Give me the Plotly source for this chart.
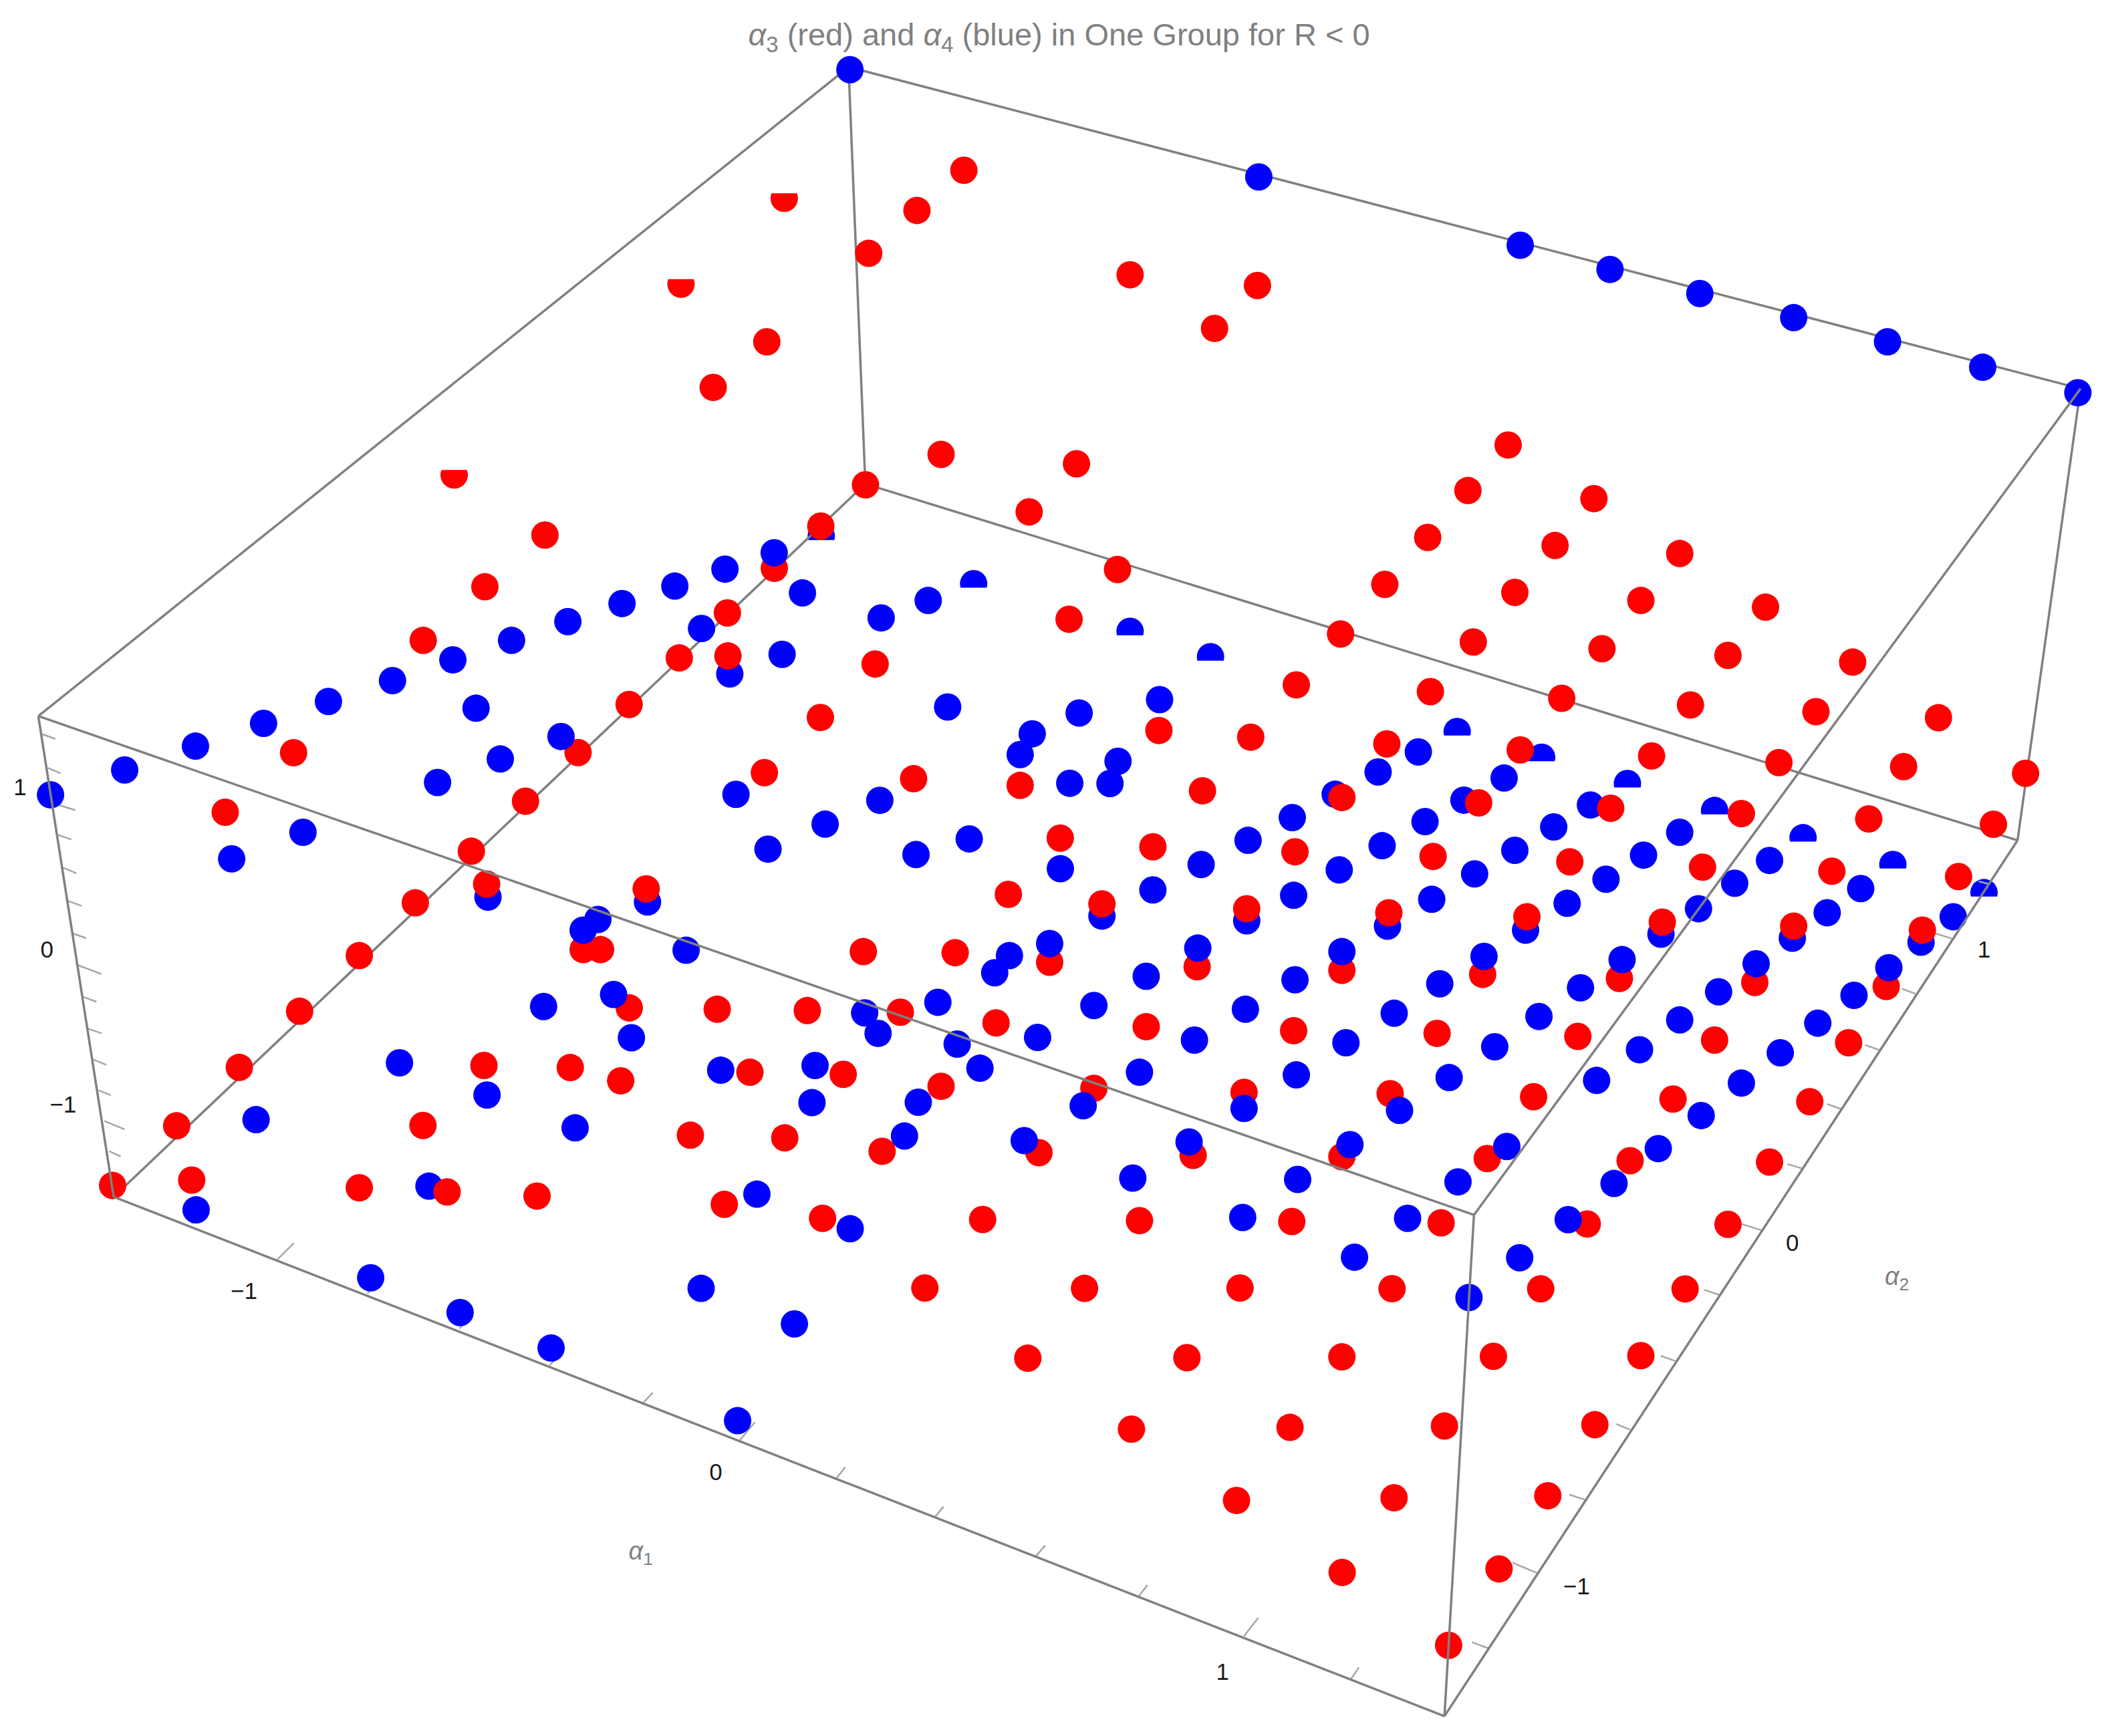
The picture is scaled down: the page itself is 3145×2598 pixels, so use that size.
import plotly.graph_objects as go

red_x = [719,684,648,843,938,906,572,532,702,803,1125,767.7,645.6,1095,1189,406.5,612.3,1065,1160,1253,833.6,361.7,1033,1130,1224,1317,
         577.6,542.6,797.5,1000,1099,1195,1289,1382,315.7,506.7,543,652.8,967,1067,1165,1261,1354.6,1446,469.3,612,219,431.2,570.2,681.5,
         864.5,933,1034.5,1134,1232,1327,1420,1511,392,761,897,1001,1103,1201.5,1299,1394,1487,351.6,790.9,860,966,1069,1171,1270,1366.5,1461,
         168,363,309.8,482,752.2,822,930,1036,1139,1240,1338,1434,
         268,223.5,178.5,131.8,143,84,435,448,644,712.5,783,893,1001,1106,1208,1309,1407,
         469.4,535,602.2,671.6,743,855,965,1072,1177,1279,1379,361,425.4,463,559.4,629,702,816,928,1037,1144,1248,1350,
         315.5,515,585.4,658,775,890,1001,1109.4,1216,1320,268,333.5,400.6,540.3,613.6,733,850,963.6,1075,1184,1289,
         689.9,809,925,1038.4,1149.3,1257,766.7,885.4,1001,1114,1224,844,962.3,1077.5,1189.7,922.4,1039.9,1154.6,1001.2,1118.2,1080.6]
red_y = [127,157,189,205,213,245,255,289,339,346,332,381.9,361.7,366,372,399.2,392.5,401,407,413,424.9,437.8,436,442,448,453,
         424,457.3,462,473,479,484,489,494,477.8,490.9,489.4,495.4,511,516,521,526,531,535.5,525.6,535.3,561.6,561.5,576.5,581,
         545,550,555,559.5,564,569,572,577,597.8,586,590,595,599,603,607,611,615,635.1,625.3,631.8,635.5,639,643,647,650,654,
         606,659.6,673.6,663.2,667.3,674.4,678,681,684,688,691,694,
         713,754.5,796.4,840,880.5,884.5,708.5,708.5,710,710.8,718,721.3,724,727,730,733,736,
         752,753,754,755.2,763.2,766,769,771,773.3,776,778,795,796.5,806.4,800,801.6,810.5,812,815,816,818.3,820,822,
         839.7,847,849,859,860,862,863,864.4,866,867,886.2,889.3,892.4,898.6,909,909.9,910.7,911.4,912.4,913.2,913.5,
         961,961.3,961,961.5,961.6,961.7,1013.4,1013,1012.4,1012,1011.5,1066.3,1065,1064,1063,1119.5,1117.5,1116,1173.2,1170.6,1227.6]

blue_x = [634,939,1134,1201,1268,1338,1408,1479,1550,
          540.8,503.4,464,423.6,381.6,337.8,292.8,245,196.6,145.8,93,37.7,598.6,692.4,657.3,523.3,583.4,544.4,355.1,373.2,326.4,549,615.5,572.9,656.3,683.3,
          172.8,226,706.9,805,865,770,761,834,798,828,723,791,931,964,896,999,1031,1063,1058,1028,1122,996,1092,1159,1130,1100,1186.4,
          1253,1226,1198,1169,1138,1320,1294,1267,1239,1388,1363,1337,1457,1433,
          860,965,1068,822,930,1035,364,483,511.8,471,405.5,645,655,753,742,855,966,1074,699.6,816,929,1040,1179,1148,1115,1282,1253,1223,1191,1383,1356,1328,1299,1269,1237,1204,
          714,774,891,1004,731,850,967,1081,298,537.6,608,363.3,429,605.7,685,674.7,191,146.3,320,564.6,634.2,
          276.5,343.2,411.1,523,592.6,550.2,845,968,1087.6,927,1050,1010.4,1133.6,1095.8]
blue_y = [52,132,183,201,219,237,255,274,293,
          424.6,437.3,450.3,463.8,477.8,492.3,507.8,523.4,539.7,556.7,574.5,593,442.4,448,461,468.9,488.2,502.8,528.4,566.3,583.8,592.7,614.9,633.5,597.1,637.6,
          640.8,621,527.5,532,522,547.5,563,568,584.4,584.6,625.9,648.2,627,610,645,649,631,613,561,576,580.5,592.6,597,617,634.4,652,600.6,
          621,638,656,674,694,642,659,678,697,663,681,700,684,703,
          664,668,671,683.5,687,691,669.3,673,709,774.3,751,755.7,771,713,725.8,728.4,731,734,747.8,750.2,753,756,737,758.4,781,740,761,783.2,806.1,742.6,763.4,785.5,808.1,832.3,857,883,
          779,774,776,778,797,800,802,804,793,798.5,795,817,841.5,822.7,822.4,847.6,835.4,902.7,885,891,916.8,
          953.4,979.3,1005.8,961.3,987.8,1060,879,880,881.8,908.4,909,938,938.4,968.1]

# Blue points that sit in front of a red neighbour
blue_front_x = [577.5,418.5,457.7,446,435,783,893.5,1001,1107,1210,1310,1409,808,928,1044,764,887,1007,1124,1169.8]
blue_front_y = [412.4,549.5,742,686,694,704,707.4,710,713.6,716,719,722,825,827,828.5,851,852,854,855.4,910]

# Points cut off by a plane of the bounding region
blue_cut_x = [612.6,726.3,843,903,1087,1150,1214,1279,1345,1412,1480]
blue_cut_y = [400,435.5,471,490,545.8,565,584.6,604.7,625,645,666]
red_cut_x = [585,508,338.8]
red_cut_y = [148,212,354.4]

# Box corners as they appear in the picture
corner_x = dict(A=633, B=1552, C=1099.5, D=28.6, E=84.8, F=1077.5, G=1505, H=645.5)
corner_y = dict(A=50, B=290, C=906.5, D=534.3, E=893, F=1280.5, G=627, H=361)
back_edges = ["AB", "AD", "AH", "HE", "HG", "BG"]
front_edges = ["DC", "CB", "CF", "DE", "EF", "FG"]

tick_x0 = [31.6,35.7,39.9,43.2,46.5,50.4,54,58.2,61.8,65.6,69.5,73.6,77.8,81.4,
           142.9,207,274,342.6,410,480,552,623.8,697.5,772.8,849.6,928,1007.3,
           1110.9,1146.7,1182.3,1215.9,1249.7,1282.6,1313.7,1344.2,1373.5,1402.2,1428.9,1456,1483.6]
tick_y0 = [547.8,572.9,599.4,622.9,647.2,672.1,696.4,720.2,743.7,767.5,790.5,813.5,836.4,858.9,
           912.9,939.6,965,991.3,1018.5,1046.5,1074.5,1103.2,1131.7,1161,1190.7,1220.7,1253.3,
           1230.1,1173.7,1119,1066.8,1015.5,966.2,917.8,871.8,827.5,783.5,741.5,700.3,659.6]
tick_x1 = [41.2,45.2,56.2,53.2,57,60.8,64.3,75.6,72,75.8,79.3,82.6,93,90,
           148,219.3,280.3,348.5,417.2,486.9,563,630.4,703.9,779.7,856,938.6,1013.7,
           1098.1,1128.2,1170.6,1205.7,1238.8,1271.2,1299.2,1333.3,1362.8,1391.3,1418.7,1439,1476]
tick_y1 = [551.3,577,604.5,626.4,651.6,675.9,700,726.7,747.5,771,794.5,817.2,842.6,862.9,
           907.3,927.4,958.7,985.4,1011.4,1039.1,1061.2,1094.8,1124.1,1153,1182.6,1207,1244.1,
           1225.3,1166,1115.2,1062.5,1011.6,962.3,913.3,868.5,823.7,779.7,737.7,695,657.6]

tick_labels = ["1", "0", "\u22121", "\u22121", "0", "1", "\u22121", "0", "1"]
tick_label_x = [15, 35, 47, 182, 534, 912, 1176, 1337, 1480]
tick_label_y = [589, 710, 826, 965, 1100, 1249, 1185, 929, 710]
axis_labels = ["<i>\u03b1</i><sub>1</sub>", "<i>\u03b1</i><sub>2</sub>"]
axis_label_x = [478, 1415]
axis_label_y = [1159, 954]
title_text = "<i>\u03b1</i><sub>3</sub> (red) and <i>\u03b1</i><sub>4</sub> (blue) in One Group for R &lt; 0"

W, H = 3145, 2598
XMAX = 1568.0
YMAX = XMAX * H / W
DOT = 41
GRAY = "#808080"
FONT = "Liberation Sans"


def edge_xy(edges):
    xs, ys = [], []
    for e in edges:
        xs += [corner_x[e[0]], corner_x[e[1]], None]
        ys += [corner_y[e[0]], corner_y[e[1]], None]
    return xs, ys


def dots(x, y, color, size=DOT, symbol="circle"):
    return go.Scatter(x=x, y=y, mode="markers", hoverinfo="skip", cliponaxis=False,
                      marker=dict(color=color, size=size, symbol=symbol, line=dict(width=0)))


fig = go.Figure()
# clipped dots: full dot, then a white mask over the part that is cut away
fig.add_trace(dots(blue_cut_x, blue_cut_y, "#0000ff"))
fig.add_trace(dots(blue_cut_x, [v + 13.2 for v in blue_cut_y], "#ffffff", symbol="square"))
fig.add_trace(dots(red_cut_x, red_cut_y, "#ff0000"))
fig.add_trace(dots(red_cut_x, [v - 14 for v in red_cut_y], "#ffffff", symbol="square"))

bx, by = edge_xy(back_edges)
fig.add_trace(go.Scatter(x=bx, y=by, mode="lines", hoverinfo="skip", line=dict(color=GRAY, width=3.5)))

tx, ty = [], []
for a, b, c, d in zip(tick_x0, tick_y0, tick_x1, tick_y1):
    tx += [a, c, None]
    ty += [b, d, None]
fig.add_trace(go.Scatter(x=tx, y=ty, mode="lines", hoverinfo="skip", line=dict(color="#a6a6a6", width=2.5)))

fig.add_trace(dots(blue_x, blue_y, "#0000ff"))
fig.add_trace(dots(red_x, red_y, "#ff0000"))
fig.add_trace(dots(blue_front_x, blue_front_y, "#0000ff"))

fx, fy = edge_xy(front_edges)
fig.add_trace(go.Scatter(x=fx, y=fy, mode="lines", hoverinfo="skip", line=dict(color=GRAY, width=3.5)))

fig.add_trace(go.Scatter(x=tick_label_x, y=tick_label_y, mode="text", text=tick_labels, hoverinfo="skip",
                         textposition="middle center", cliponaxis=False,
                         textfont=dict(family=FONT, size=35, color="#1a1a1a")))
fig.add_trace(go.Scatter(x=axis_label_x, y=axis_label_y, mode="text", text=axis_labels, hoverinfo="skip",
                         textposition="middle center", cliponaxis=False,
                         textfont=dict(family=FONT, size=38, color=GRAY)))
fig.add_trace(go.Scatter(x=[790], y=[28], mode="text", text=[title_text], hoverinfo="skip",
                         textposition="middle center", cliponaxis=False,
                         textfont=dict(family=FONT, size=47, color=GRAY)))

fig.update_layout(
    width=W, height=H, margin=dict(l=0, r=0, t=0, b=0), showlegend=False,
    paper_bgcolor="white", plot_bgcolor="white",
    xaxis=dict(range=[0, XMAX], visible=False),
    yaxis=dict(range=[YMAX, 0], visible=False),
)
fig.write_html("out.html", config={"displayModeBar": False}, post_script="document.body.style.margin='0';")
